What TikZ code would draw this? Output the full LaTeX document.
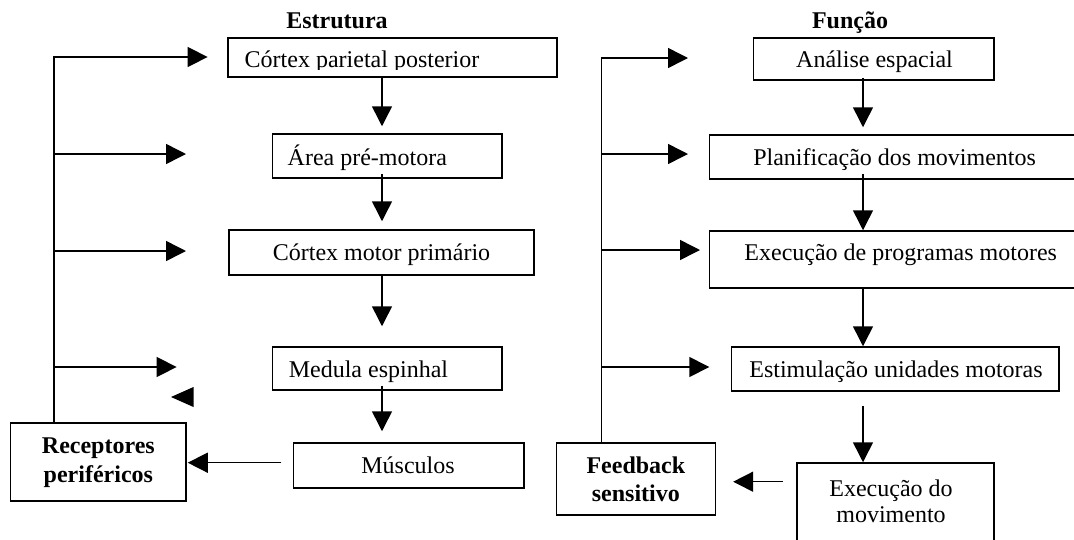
\documentclass[tikz,border=0pt]{standalone}
\usepackage{fontspec}
\setmainfont{Liberation Serif}
\usetikzlibrary{arrows.meta}
\begin{document}
\begin{tikzpicture}[x=1pt,y=-1pt,
  lw/.style={line width=1.5pt},
  box/.style={draw,lw,rectangle,inner sep=0pt},
  txt/.style={inner sep=0pt,font=\fontsize{24}{29}\selectfont},
  btxt/.style={inner sep=0pt,font=\fontsize{24}{29}\selectfont\bfseries},
  conn/.style={lw,-{Triangle[length=20pt,width=20pt]}},
  plainline/.style={lw}]
\useasboundingbox (0,0) rectangle (1074,539);
\fill[white] (0,0) rectangle (1074,539);

% ---------- titles
\node[btxt,anchor=base] (h1) at (337,28) {Estrutura};
\node[btxt,anchor=base] (h2) at (850,28) {Função};

% ---------- left column boxes
\node[box,minimum width=329pt,minimum height=39pt] (b1) at (392.5,57.5) {};
\node[box,minimum width=229.3pt,minimum height=44pt] (b2) at (387.35,156) {};
\node[box,minimum width=305pt,minimum height=45pt] (b3) at (381.5,252.5) {};
\node[box,minimum width=229.3pt,minimum height=43pt] (b4) at (387.35,368.5) {};
\node[box,minimum width=230.3pt,minimum height=45pt] (b5) at (408.85,465.5) {};
\node[box,minimum width=175.3pt,minimum height=78pt] (rec) at (98.35,462) {};

\begin{scope}
\clip (228,38) rectangle (557,69.5);
\node[txt,anchor=base west] (t1) at (244.5,67) {Córtex parietal posterior};
\end{scope}
\node[txt,anchor=base west] (t2) at (287.5,165) {Área pré-motora};
\node[txt,anchor=base] (t3) at (381.5,260) {Córtex motor primário};
\node[txt,anchor=base west] (t4) at (288.6,377) {Medula espinhal};
\node[txt,anchor=base] (t5) at (408,473) {Músculos};
\node[btxt,anchor=base] (rt1) at (98.35,453) {Receptores};
\node[btxt,anchor=base] (rt2) at (98.35,482) {periféricos};

% ---------- right column boxes
\node[box,minimum width=240.4pt,minimum height=42pt] (c1) at (873.8,59) {};
\node[box,minimum width=375.4pt,minimum height=44pt] (c2) at (897,157) {};
\node[box,minimum width=375.4pt,minimum height=57pt] (c3) at (897,259.5) {};
\node[box,minimum width=327.6pt,minimum height=44pt] (c4) at (895.2,369) {};
\node[box,minimum width=197pt,minimum height=97pt] (c5) at (895.5,511.5) {};
\node[box,minimum width=159.1pt,minimum height=72pt] (fb) at (635.85,479) {};

\node[txt,anchor=base] (u1) at (874.5,67) {Análise espacial};
\node[txt,anchor=base] (u2) at (894.6,165) {Planificação dos movimentos};
\node[txt,anchor=base] (u3) at (900.7,260) {Execução de programas motores};
\node[txt,anchor=base] (u4) at (896,377) {Estimulação unidades motoras};
\node[txt,anchor=base] (u5a) at (891,496) {Execução do};
\node[txt,anchor=base] (u5b) at (891,522) {movimento};
\node[btxt,anchor=base] (ft1) at (635.85,473.3) {Feedback};
\node[btxt,anchor=base] (ft2) at (635.85,501.7) {sensitivo};

% ---------- helper coordinates
\coordinate (col1) at (382,0);
\coordinate (col2) at (863,0);
\coordinate (s1) at (54,57);
\coordinate (p1) at (207.6,57);
\coordinate (p2) at (186,154);
\coordinate (p3) at (186,251);
\coordinate (p4) at (176.6,367);
\coordinate (s2) at (601.3,58);
\coordinate (q1) at (688,58);
\coordinate (q2) at (688,154);
\coordinate (q3) at (700,250);
\coordinate (q4) at (709.3,367);
\coordinate (ra) at ([yshift=2.8pt]b5.west);
\coordinate (fa) at ([yshift=-2.7pt]fb.east);

% ---------- left feedback spine
\draw[conn] (rec.north -| s1) -- (s1) -- (p1);
\draw[conn] (s1 |- p2) -- (p2);
\draw[conn] (s1 |- p3) -- (p3);
\draw[conn] (s1 |- p4) -- (p4);
\fill (171,397) -- (193.5,387) -- (193.5,407) -- cycle;

% ---------- left vertical chain
\draw[conn,shorten >=7pt] (b1.south -| col1) -- (b2.north -| col1);
\draw[conn,shorten <=-5pt,shorten >=8pt] (b2.south -| col1) -- (b3.north -| col1);
\draw[conn,shorten >=20pt] (b3.south -| col1) -- (b4.north -| col1);
\draw[conn,shorten <=-5pt,shorten >=11pt] (b4.south -| col1) -- (b5.north -| col1);
\draw[conn,shorten <=11.7pt,shorten >=1pt] (ra) -- (ra -| rec.east);

% ---------- right feedback spine
\draw[conn] (fb.north -| s2) -- (s2) -- (q1);
\draw[conn] (s2 |- q2) -- (q2);
\draw[conn] (s2 |- q3) -- (q3);
\draw[conn] (s2 |- q4) -- (q4);

% ---------- right vertical chain
\draw[conn,shorten <=-3pt,shorten >=7pt] (c1.south -| col2) -- (c2.north -| col2);
\draw[conn,shorten <=-6pt] (c2.south -| col2) -- (c3.north -| col2);
\draw[conn] (c3.south -| col2) -- (c4.north -| col2);
\draw[conn,shorten <=14pt] (c4.south -| col2) -- (c5.north -| col2);
\draw[conn,shorten <=13.5pt,shorten >=17pt] (fa -| c5.west) -- (fa);
\end{tikzpicture}
\end{document}
